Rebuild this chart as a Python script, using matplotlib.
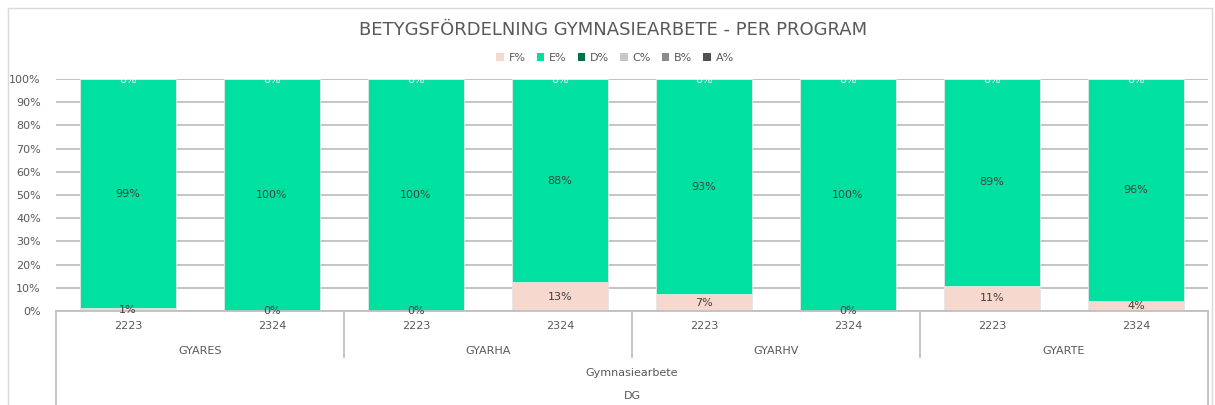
import numpy as np
import matplotlib.pyplot as plt
from matplotlib.lines import Line2D
from matplotlib.patches import Patch

# data
years = ['2223', '2324', '2223', '2324', '2223', '2324', '2223', '2324']
programs = ['GYARES', 'GYARHA', 'GYARHV', 'GYARTE']
level2 = 'Gymnasiearbete'
level3 = 'DG'

f_pct = [1.2, 0.0, 0.0, 12.5, 7.3, 0.0, 10.8, 4.3]
e_pct = [98.8, 100.0, 100.0, 87.5, 92.7, 100.0, 89.2, 95.7]
d_pct = [0, 0, 0, 0, 0, 0, 0, 0]
c_pct = [0, 0, 0, 0, 0, 0, 0, 0]
b_pct = [0, 0, 0, 0, 0, 0, 0, 0]
a_pct = [0, 0, 0, 0, 0, 0, 0, 0]

series = ['F%', 'E%', 'D%', 'C%', 'B%', 'A%']
colors = ['#F6D8CF', '#00E0A0', '#00704A', '#C8C8C8', '#8C8C8C', '#505050']

txt = '#595959'
ftsize = 8

def pct_label(v):
    return '%d%%' % int(v + 0.5)

fig = plt.figure(figsize=(12.15, 4.05), dpi=100)
W, H = 1215., 405.
ax = fig.add_axes([56 / W, (H - 311) / H, (1208 - 56) / W, (311 - 79) / H])

x = np.arange(len(years))
bw = 0.667
vals = [f_pct, e_pct, d_pct, c_pct, b_pct, a_pct]
bottom = np.zeros(len(years))
for i, v in enumerate(vals):
    v = np.array(v, dtype=float)
    ax.bar(x, v, bw, bottom=bottom, color=colors[i], edgecolor='#E6E6E6',
           linewidth=0.6, zorder=2)
    for j in range(len(x)):
        if i < 2:
            ax.text(x[j], bottom[j] + v[j] / 2, pct_label(v[j]), ha='center',
                    va='center', fontsize=ftsize, color='#404040', zorder=4)
        elif i == 2:
            ax.text(x[j], bottom[j] + v[j] / 2 - 0.6, pct_label(v[j]), ha='center',
                    va='center', fontsize=ftsize, color='white', zorder=4)
    bottom += v

ax.set_xlim(-0.5, 7.5)
ax.set_ylim(0, 100)
ax.set_yticks(np.arange(0, 101, 10))
ax.set_yticklabels(['%d%%' % t for t in range(0, 101, 10)])
ax.tick_params(axis='y', length=0, labelsize=ftsize, labelcolor=txt, pad=11)
ax.set_xticks([])
ax.yaxis.grid(True, color='#BFBFBF', linewidth=1.3, zorder=0)
ax.set_axisbelow(True)
for s in ['left', 'right', 'top']:
    ax.spines[s].set_visible(False)
ax.spines['bottom'].set_color('#BFBFBF')
ax.spines['bottom'].set_linewidth(1.3)

# multi level category axis
tr = ax.get_xaxis_transform()
for j in range(len(x)):
    ax.text(x[j], -0.065, years[j], transform=tr, ha='center', va='center',
            fontsize=ftsize, color=txt)
for k, p in enumerate(programs):
    ax.text(2 * k + 0.5, -0.172, p, transform=tr, ha='center', va='center',
            fontsize=ftsize, color=txt)
ax.text(3.5, -0.267, level2, transform=tr, ha='center', va='center',
        fontsize=ftsize, color=txt)
ax.text(3.5, -0.366, level3, transform=tr, ha='center', va='center',
        fontsize=ftsize, color=txt)
for xs in [1.5, 3.5, 5.5]:
    ax.add_line(Line2D([xs, xs], [0, -0.198], transform=tr, color='#BFBFBF',
                       linewidth=1.3, clip_on=False))
for xs in [-0.5, 7.5]:
    ax.add_line(Line2D([xs, xs], [0, -0.42], transform=tr, color='#BFBFBF',
                       linewidth=1.3, clip_on=False))

# title and legend
fig.text(613 / W, 1 - 30 / H, 'BETYGSFÖRDELNING GYMNASIEARBETE - PER PROGRAM',
         ha='center', va='center', fontsize=13, color=txt)
handles = [Patch(facecolor=c, edgecolor='none') for c in colors]
fig.legend(handles, series, loc='center', bbox_to_anchor=(615 / W, 1 - 58 / H),
           ncol=6, frameon=False, fontsize=ftsize, labelcolor=txt,
           handlelength=0.7, handleheight=0.7, handletextpad=0.4,
           columnspacing=1.0)

# chart frame
fc = '#D9D9D9'
fig.add_artist(Line2D([8 / W, 8 / W], [0, 1 - 8 / H], transform=fig.transFigure, color=fc, linewidth=1))
fig.add_artist(Line2D([8 / W, 1212 / W], [1 - 8 / H, 1 - 8 / H], transform=fig.transFigure, color=fc, linewidth=1))
fig.add_artist(Line2D([1212 / W, 1212 / W], [0, 1 - 8 / H], transform=fig.transFigure, color=fc, linewidth=1))

plt.savefig('out.png', dpi=100)
